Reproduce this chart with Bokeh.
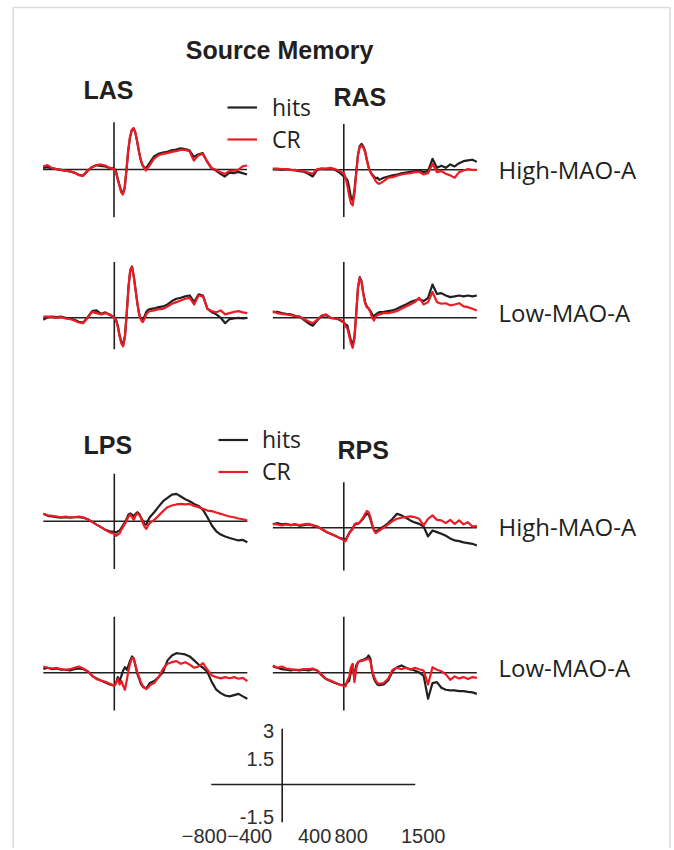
from bokeh.plotting import figure
from bokeh.models import Range1d, Label, Legend, LegendItem, BoxAnnotation
from bokeh.embed import file_html
from bokeh.resources import INLINE
from bokeh.core.properties import value

# ---------------- data (µV) ----------------
time_ms = [-800, -750, -700, -650, -600, -550, -500, -450, -400, -350, -300, -250, -200, -150, -100, -50, 0,
           20, 40, 60, 80, 100, 120, 140, 160, 180, 200, 220, 240, 260, 280, 300, 320, 340, 360, 380, 400,
           450, 500, 550, 600, 650, 700, 750, 800, 850, 900, 950, 1000, 1050, 1100, 1150, 1200, 1250, 1300,
           1350, 1400, 1450, 1500]

las_high_hits = [0.09, 0.13, 0.06, 0.02, -0.02, -0.06, -0.11, -0.17, -0.28, -0.35, -0.09, 0.13, 0.24, 0.20, 0.17, 0.09, 0.06,
                 -0.06, -0.46, -0.83, -1.17, -1.31, -1.02, -0.06, 1.02, 1.76, 2.17, 2.28, 2.06, 1.57, 1.02, 0.54, 0.24, 0.13, 0.09, 0.20, 0.35,
                 0.72, 0.87, 0.94, 0.98, 1.06, 1.11, 1.17, 1.13, 1.06, 0.70, 0.83, 0.91, 0.43, 0.06, -0.06, -0.24, -0.39, -0.17,
                 -0.20, -0.13, -0.20, -0.28]
las_high_cr = [0.17, 0.24, 0.09, 0.02, -0.02, -0.06, -0.09, -0.17, -0.31, -0.35, -0.06, 0.13, 0.24, 0.28, 0.22, 0.09, 0.02,
               -0.15, -0.52, -0.89, -1.26, -1.39, -1.07, -0.06, 1.06, 1.80, 2.20, 2.31, 2.07, 1.61, 1.06, 0.59, 0.28, 0.09, -0.06, 0.09, 0.22,
               0.59, 0.78, 0.87, 0.91, 0.98, 1.02, 1.09, 1.09, 1.02, 0.50, 0.78, 0.87, 0.46, 0.09, -0.02, -0.15, -0.24, -0.09,
               -0.06, -0.02, 0.17, 0.22]

ras_high_hits = [0.04, 0.04, 0.0, 0.04, 0.0, -0.04, -0.07, -0.11, -0.22, -0.37, 0.0, 0.07, 0.04, 0.07, 0.0, -0.15, -0.37,
                 -0.44, -0.56, -0.96, -1.52, -1.70, -1.15, -0.13, 0.85, 1.33, 1.44, 1.30, 1.04, 0.56, 0.15, -0.11, -0.26, -0.37, -0.48, -0.44, -0.56,
                 -0.44, -0.37, -0.31, -0.26, -0.19, -0.15, -0.11, -0.07, -0.04, -0.13, -0.07, 0.61, 0.11, 0.22, 0.11, 0.30, 0.19, 0.37,
                 0.48, 0.52, 0.56, 0.44]
ras_high_cr = [0.07, 0.07, 0.04, 0.04, 0.0, 0.0, -0.04, -0.07, -0.15, -0.22, 0.04, 0.07, 0.07, 0.11, 0.04, -0.07, -0.19,
               -0.44, -0.87, -1.43, -1.85, -1.98, -1.33, -0.22, 0.80, 1.26, 1.35, 1.22, 0.98, 0.52, 0.11, -0.13, -0.31, -0.44, -0.63, -0.74, -0.78,
               -0.63, -0.44, -0.41, -0.33, -0.26, -0.22, -0.19, -0.13, -0.11, -0.26, -0.19, 0.33, -0.13, -0.07, -0.22, -0.31, -0.44, -0.13,
               -0.04, 0.04, 0.0, 0.0]

las_low_hits = [-0.11, 0.04, 0.07, 0.04, 0.07, 0.0, -0.04, -0.11, -0.22, -0.26, 0.04, 0.37, 0.41, 0.22, 0.30, 0.15, 0.04,
                -0.11, -0.44, -0.98, -1.33, -1.48, -1.00, 0.26, 1.70, 2.63, 2.85, 2.30, 1.56, 0.81, 0.22, -0.06, -0.15, 0.07, 0.33, 0.44, 0.48,
                0.52, 0.59, 0.63, 0.74, 0.93, 1.06, 1.11, 1.19, 1.24, 0.87, 1.30, 1.24, 0.50, 0.31, 0.19, 0.0, -0.30, -0.07,
                -0.04, 0.0, -0.04, 0.0]
las_low_cr = [0.07, 0.07, 0.04, 0.0, 0.04, -0.04, -0.07, -0.15, -0.26, -0.30, 0.0, 0.33, 0.26, 0.19, 0.26, 0.19, 0.0,
              -0.15, -0.52, -1.04, -1.44, -1.59, -1.07, 0.22, 1.70, 2.67, 2.81, 2.26, 1.52, 0.81, 0.19, -0.11, -0.24, -0.07, 0.19, 0.31, 0.37,
              0.41, 0.48, 0.50, 0.63, 0.78, 0.87, 0.96, 1.06, 1.11, 0.74, 1.24, 1.19, 0.50, 0.37, 0.31, 0.41, 0.19, 0.26,
              0.33, 0.37, 0.30, 0.26]

ras_low_hits = [0.31, 0.33, 0.26, 0.22, 0.19, 0.11, 0.07, -0.11, -0.30, -0.44, -0.15, 0.11, 0.15, 0.0, -0.04, -0.11, -0.26,
                -0.37, -0.43, -0.85, -1.26, -1.48, -1.07, 0.26, 1.67, 2.26, 2.04, 1.37, 0.87, 0.63, 0.52, 0.37, 0.19, 0.07, 0.19, 0.26, 0.31,
                0.33, 0.37, 0.41, 0.50, 0.63, 0.74, 0.87, 0.96, 1.04, 0.93, 1.11, 1.85, 1.33, 1.37, 1.24, 1.15, 1.19, 1.24,
                1.19, 1.24, 1.19, 1.24]
ras_low_cr = [0.37, 0.26, 0.22, 0.19, 0.15, 0.11, 0.07, -0.07, -0.19, -0.30, -0.11, 0.11, 0.19, 0.0, -0.04, -0.07, -0.24,
              -0.48, -0.59, -0.98, -1.41, -1.67, -1.17, 0.22, 1.70, 2.22, 1.98, 1.33, 0.81, 0.59, 0.50, 0.31, 0.0, -0.15, 0.07, 0.15, 0.19,
              0.26, 0.26, 0.31, 0.37, 0.50, 0.63, 0.74, 0.87, 1.11, 0.74, 0.87, 1.43, 0.87, 0.78, 0.81, 0.69, 0.74, 0.81,
              0.63, 0.59, 0.50, 0.41]

lps_high_hits = [0.41, 0.30, 0.26, 0.22, 0.19, 0.22, 0.19, 0.22, 0.22, 0.19, 0.11, -0.04, -0.19, -0.33, -0.48, -0.56, -0.59,
                 -0.63, -0.56, -0.52, -0.37, -0.22, -0.07, 0.13, 0.37, 0.44, 0.37, 0.26, 0.41, 0.50, 0.41, 0.22, 0.04, -0.15, -0.19, 0.04, 0.22,
                 0.50, 0.81, 1.11, 1.30, 1.48, 1.52, 1.37, 1.22, 1.11, 0.96, 0.85, 0.63, 0.22, -0.24, -0.56, -0.74, -0.85, -0.93,
                 -1.00, -1.07, -1.04, -1.17]
lps_high_cr = [0.41, 0.33, 0.30, 0.26, 0.22, 0.26, 0.22, 0.22, 0.26, 0.22, 0.11, -0.04, -0.19, -0.33, -0.48, -0.63, -0.70,
               -0.81, -0.74, -0.67, -0.48, -0.30, -0.15, 0.04, 0.26, 0.37, 0.22, 0.07, 0.31, 0.44, 0.37, 0.19, -0.07, -0.30, -0.43, -0.24, -0.11,
               0.07, 0.31, 0.56, 0.78, 0.87, 0.93, 0.96, 0.93, 0.96, 0.85, 0.78, 0.69, 0.59, 0.56, 0.48, 0.41, 0.33, 0.26,
               0.22, 0.15, 0.11, 0.04]

rps_high_hits = [0.19, 0.26, 0.19, 0.22, 0.15, 0.19, 0.11, 0.15, 0.19, 0.13, 0.07, -0.07, -0.22, -0.33, -0.44, -0.56, -0.63,
                 -0.67, -0.48, -0.30, -0.15, -0.04, 0.15, 0.22, 0.22, 0.30, 0.41, 0.52, 0.67, 0.78, 0.74, 0.48, 0.15, -0.11, -0.22, -0.15, -0.07,
                 0.07, 0.26, 0.50, 0.78, 0.69, 0.56, 0.41, 0.30, 0.22, 0.07, -0.48, -0.15, -0.24, -0.33, -0.44, -0.59, -0.70, -0.74,
                 -0.81, -0.85, -0.89, -0.98]
rps_high_cr = [0.22, 0.19, 0.13, 0.19, 0.15, 0.19, 0.15, 0.19, 0.22, 0.15, 0.07, -0.07, -0.22, -0.33, -0.43, -0.56, -0.70,
               -0.74, -0.52, -0.33, -0.19, -0.07, 0.19, 0.26, 0.22, 0.31, 0.44, 0.59, 0.78, 0.93, 0.87, 0.59, 0.19, -0.15, -0.30, -0.22, -0.15,
               0.0, 0.19, 0.37, 0.50, 0.56, 0.59, 0.63, 0.59, 0.50, 0.13, 0.50, 0.69, 0.44, 0.41, 0.26, 0.44, 0.22, 0.41,
               0.19, 0.31, 0.07, 0.11]

lps_low_hits = [0.22, 0.28, 0.20, 0.24, 0.17, 0.17, 0.13, 0.20, 0.24, 0.20, 0.09, -0.17, -0.31, -0.43, -0.54, -0.65, -0.72,
                -0.57, -0.24, -0.46, -0.17, 0.13, 0.31, 0.17, 0.41, 0.69, 0.91, 0.78, 0.35, -0.06, -0.33, -0.61, -0.76, -0.83, -0.87, -0.72, -0.57,
                -0.46, -0.24, 0.04, 0.69, 0.96, 1.09, 1.06, 1.02, 0.91, 0.69, 0.46, 0.28, 0.04, -0.52, -0.94, -1.13, -1.26, -1.31,
                -1.24, -1.17, -1.31, -1.44]
lps_low_cr = [0.35, 0.28, 0.24, 0.28, 0.20, 0.17, 0.20, 0.28, 0.35, 0.24, 0.09, -0.17, -0.35, -0.43, -0.50, -0.61, -0.72,
              -0.57, -0.35, -0.65, -0.46, -0.72, -0.94, -0.43, 0.13, 0.54, 0.83, 0.78, 0.41, 0.04, -0.24, -0.52, -0.72, -0.83, -0.91, -0.83, -0.70,
              -0.57, -0.24, 0.22, 0.50, 0.59, 0.65, 0.50, 0.59, 0.46, 0.28, 0.35, 0.54, 0.17, -0.15, -0.24, -0.31, -0.24, -0.30,
              -0.24, -0.33, -0.28, -0.46]

rps_low_hits = [0.35, 0.28, 0.20, 0.17, 0.13, 0.17, 0.13, 0.17, 0.13, 0.20, 0.13, -0.13, -0.35, -0.46, -0.57, -0.65, -0.70,
                -0.65, -0.52, -0.46, 0.04, 0.46, -0.33, 0.41, 0.59, 0.65, 0.69, 0.72, 0.78, 0.83, 0.96, 0.78, 0.04, -0.33, -0.52, -0.65, -0.69,
                -0.65, -0.43, 0.09, 0.31, 0.41, 0.28, 0.20, 0.13, 0.02, -0.17, -1.44, -0.57, -0.52, -0.83, -0.94, -0.98, -0.98, -1.02,
                -1.02, -1.06, -1.09, -1.17]
rps_low_cr = [0.41, 0.28, 0.35, 0.24, 0.20, 0.17, 0.17, 0.20, 0.20, 0.24, 0.13, -0.09, -0.33, -0.43, -0.54, -0.65, -0.72,
              -0.76, -0.43, -0.24, 0.31, 0.50, -0.52, 0.22, 0.59, 0.65, 0.65, 0.69, 0.72, 0.76, 0.78, 0.65, 0.13, -0.20, -0.43, -0.57, -0.61,
              -0.57, -0.33, 0.17, 0.28, 0.20, 0.28, 0.17, 0.28, 0.20, 0.13, -0.65, 0.31, 0.17, 0.09, -0.09, -0.39, -0.20, -0.31,
              -0.24, -0.35, -0.24, -0.28]

epoch_ms = [-800, 1500]                  # extent of each panel's time axis
scale_x_ticks = [-800, -400, 400, 800, 1500]
scale_x_tick_labels = ["\u2212800", "\u2212400", "400", "800", "1500"]
scale_y_ticks = [3, 1.5, -1.5]
scale_y_tick_labels = ["3", "1.5", "-1.5"]

# ---------------- layout / style ----------------
W, H = 672, 848
KX = 204 / 2300.0     # px per ms
KY = 18.0             # px per µV
BLACK = "#231f20"
RED = "#ed1c24"

p = figure(width=W, height=H, output_backend="svg", toolbar_location=None, tools="",
           x_range=Range1d(0, W), y_range=Range1d(H, 0),
           x_axis_location=None, y_axis_location=None, min_border=0)
p.grid.visible = False
p.outline_line_color = None
p.background_fill_color = "white"

p.add_layout(BoxAnnotation(left=12.7, right=669.5, top=7, bottom=H + 40,
                           fill_alpha=0, line_color="#8a8a8a", line_width=1.6))


def add_panel(name, x_zero, y_zero):
    xs = -x_zero / KX
    p.extra_x_ranges[name] = Range1d(xs, xs + W / KX)
    p.extra_y_ranges[name] = Range1d((y_zero - H) / KY, y_zero / KY)


def axes_cross(name, v_top, v_bot):
    p.line(epoch_ms, [0, 0], x_range_name=name, y_range_name=name,
           line_color=BLACK, line_width=1.6)
    p.line([0, 0], [v_top, v_bot], x_range_name=name, y_range_name=name,
           line_color=BLACK, line_width=1.6)


panels = [
    # name, t=0 x, baseline y, vertical extent, hits, cr
    ("las_hi", 113.5, 169.0, (2.63, -2.65), las_high_hits, las_high_cr),
    ("ras_hi", 343.3, 169.3, (2.55, -2.62), ras_high_hits, ras_high_cr),
    ("las_lo", 113.8, 317.3, (3.1, -1.75), las_low_hits, las_low_cr),
    ("ras_lo", 343.3, 317.3, (3.1, -1.75), ras_low_hits, ras_low_cr),
    ("lps_hi", 113.8, 520.7, (2.63, -2.65), lps_high_hits, lps_high_cr),
    ("rps_hi", 343.3, 527.3, (2.53, -2.37), rps_high_hits, rps_high_cr),
    ("lps_lo", 113.8, 672.3, (3.12, -2.1), lps_low_hits, lps_low_cr),
    ("rps_lo", 343.3, 672.3, (3.12, -2.1), rps_low_hits, rps_low_cr),
]

renderers = {}
for name, xz, yz, (vt, vb), hits, cr in panels:
    add_panel(name, xz, yz)
    axes_cross(name, vt, vb)
    rb = p.line(time_ms, hits, x_range_name=name, y_range_name=name,
                line_color=BLACK, line_width=2.2, line_join="round")
    rr = p.line(time_ms, cr, x_range_name=name, y_range_name=name,
                line_color=RED, line_width=2.2, line_join="round")
    renderers[name] = (rb, rr)

# scale bar
add_panel("scale", 281.7, 784.0)
axes_cross("scale", 3.1, -2.1)
p.text(x=scale_x_ticks, y=[0] * len(scale_x_ticks), text=scale_x_tick_labels,
       x_range_name="scale", y_range_name="scale",
       x_offset=[-7, 3, -3, -2, 8], y_offset=51,
       text_align="center", text_baseline="middle",
       text_font=value("Liberation Sans"), text_font_size="20px", text_color="#2e2e2e")
p.text(x=[0] * len(scale_y_ticks), y=scale_y_ticks, text=scale_y_tick_labels,
       x_range_name="scale", y_range_name="scale",
       x_offset=-8, y_offset=[0, 1, 5],
       text_align="right", text_baseline="middle",
       text_font=value("Liberation Sans"), text_font_size="20px", text_color="#2e2e2e")


# legends
def add_legend(name, left, bottom, gh, standoff):
    rb, rr = renderers[name]
    lg = Legend(items=[LegendItem(label="hits", renderers=[rb]),
                       LegendItem(label="CR", renderers=[rr])],
                location=(left, H - bottom),
                border_line_color=None, background_fill_alpha=0,
                padding=0, margin=0, spacing=-3,
                glyph_width=30, glyph_height=gh, label_height=gh,
                label_standoff=standoff,
                label_text_font="Open Sans", label_text_font_size="23px",
                label_text_color=BLACK)
    p.add_layout(lg, "center")


add_legend("las_hi", 227, 155, 28, 15)
add_legend("lps_hi", 218, 487, 29, 14)


# texts
def label(x, y, text, size, bold=False, align="left", baseline="alphabetic", font="Liberation Sans"):
    p.add_layout(Label(x=x, y=y, text=text, text_align=align, text_baseline=baseline,
                       text_font=font, text_font_size=size,
                       text_font_style="bold" if bold else "normal", text_color=BLACK))


label(279, 49, "Source Memory", "25px", bold=True, align="center")
label(83, 89, "LAS", "25px", bold=True)
label(333, 96, "RAS", "25px", bold=True)
label(83, 444, "LPS", "25px", bold=True)
label(337, 449, "RPS", "25px", bold=True)

for y, txt in [(169, "High-MAO-A"), (312, "Low-MAO-A"), (526, "High-MAO-A"), (667, "Low-MAO-A")]:
    label(498, y, txt, "24px", baseline="middle", font="Open Sans")

open("out.html", "w").write(file_html(p, INLINE))
